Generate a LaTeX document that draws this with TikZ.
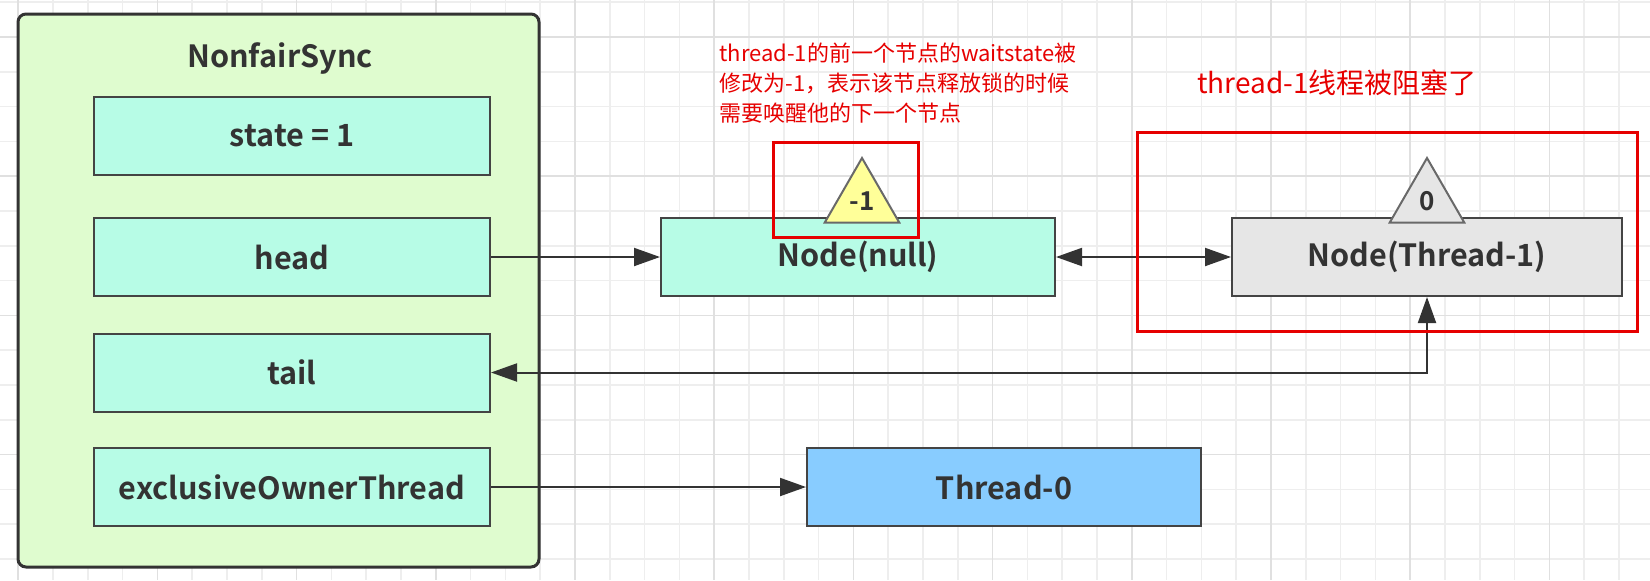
\documentclass[tikz,border=0pt]{standalone}
\usepackage{fontspec}
\setmainfont{Noto Sans CJK SC}[BoldFont={Noto Sans CJK SC Bold}]
\usepackage{tikz}
\usetikzlibrary{positioning,arrows.meta,shapes.geometric}

\definecolor{syncgreen}{HTML}{DFFCCF}
\definecolor{fieldmint}{HTML}{B7FCE6}
\definecolor{nodegray}{HTML}{E6E6E6}
\definecolor{threadblue}{HTML}{88CCFF}
\definecolor{waityellow}{HTML}{FFFF99}
\definecolor{edgegray}{HTML}{444444}
\definecolor{textgray}{HTML}{333333}
\definecolor{markred}{HTML}{E60000}
\definecolor{gridminor}{HTML}{EEEEEE}
\definecolor{gridmajor}{HTML}{E0E0E0}

\begin{document}
\begin{tikzpicture}[x=0.5pt,y=-0.5pt,
      >={Triangle[length=13pt,width=9pt]},
      field/.style={draw=edgegray,line width=1pt,fill=fieldmint,
        minimum width=198pt,minimum height=39pt,inner sep=0pt,
        font=\fontsize{15.3}{17}\selectfont\bfseries,text=textgray},
      wstate/.style={regular polygon,regular polygon sides=3,
        draw=edgegray!80,line width=1pt,minimum size=43pt,inner sep=0pt,
        font=\fontsize{13}{14}\selectfont\bfseries,text=textgray},
      link/.style={draw=textgray,line width=1pt,->},
      redbox/.style={draw=markred,line width=1.5pt},
      note/.style={text=markred,inner sep=0pt,align=left}]

      \useasboundingbox (0,0) rectangle (1650,580);
      % grid paper
      \foreach \i in {0,...,47}
        \draw[gridminor,line width=0.8pt] ({-16.6+34.8*\i},0) -- ++(0,580);
      \foreach \i in {0,...,16}
        \draw[gridminor,line width=0.8pt] (0,{2.2+34.8*\i}) -- ++(1650,0);
      \foreach \i in {0,...,11}
        \draw[gridmajor,line width=0.8pt] ({18.2+139.2*\i},0) -- ++(0,580);
      \foreach \i in {0,...,3}
        \draw[gridmajor,line width=0.8pt] (0,{37+139.2*\i}) -- ++(1650,0);

      % the sync object
      \node[draw=textgray,line width=1.5pt,fill=syncgreen,rounded corners=4pt,
        minimum width=260.5pt,minimum height=276.5pt] (sync) at (278.5,290.5) {};
      \node[font=\fontsize{15.3}{17}\selectfont\bfseries,text=textgray]
        (synclabel) at (280,58) {NonfairSync};
      \node[field] (state) at (292,136) {state = 1};
      \node[field] (head) at (292,257) {head};
      \node[field] (tail) at (292,372.5) {tail};
      \node[field] (owner) at (292,487) {exclusiveOwnerThread};

      % queue
      \node[field,minimum width=197pt] (nullnode) at (858,257) {Node(null)};
      \node[field,fill=nodegray,minimum width=195pt] (thrnode) at (1427,257) {Node(Thread-1)};
      \node[field,fill=threadblue,minimum width=197pt] (thread0) at (1004,487) {Thread-0};

      \node[wstate,fill=waityellow] (wsnull) at (862,201) {-1};
      \node[wstate,fill=nodegray] (wsthr) at (1427,201) {0};

      \draw[link] (head) -- (nullnode);
      \draw[link,<->] (nullnode) -- (thrnode);
      \draw[link,<->] (thrnode.south) |- (tail.east);
      \draw[link] (owner) -- (thread0);

      % remarks
      \draw[redbox] (773,142) rectangle (918,237);
      \draw[redbox] (1137,132) rectangle (1637,331);
      \node[note,anchor=west,font=\fontsize{11}{15}\selectfont] (remark) at (719,83)
        {thread-1的前一个节点的waitstate被\\修改为-1，表示该节点释放锁的时候\\需要唤醒他的下一个节点};
      \node[note,anchor=west,font=\fontsize{14}{16}\selectfont] (blocked) at (1197,83)
        {thread-1线程被阻塞了};
\end{tikzpicture}
\end{document}
